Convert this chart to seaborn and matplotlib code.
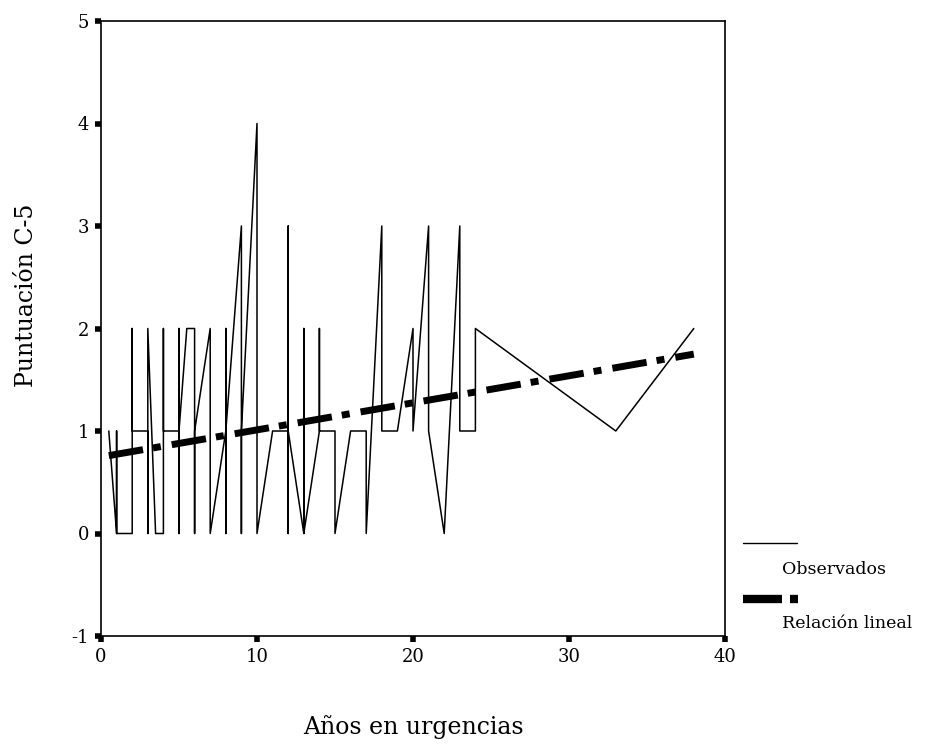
import matplotlib
matplotlib.use("Agg")
import matplotlib.pyplot as plt
from matplotlib.lines import Line2D
import seaborn as sns
import pandas as pd

# Observed scores, in the order the cases are joined (sorted by years)
obs_years = [0.5, 1, 1, 1, 2, 2, 2, 3, 3, 3, 3.5, 4, 4, 4, 5, 5, 5, 5, 5.5,
             6, 6, 6, 7, 7, 8, 8, 8, 8, 9, 9, 9, 10, 10, 11, 12, 12, 12, 12,
             13, 13, 13, 14, 14, 14, 15, 15, 16, 17, 17, 18, 18, 19, 20, 20,
             21, 21, 22, 23, 23, 24, 24, 33, 38]
obs_score = [1, 0, 1, 0, 0, 2, 1, 1, 0, 2, 0, 0, 2, 1, 1, 0, 2, 1, 2,
             2, 0, 1, 2, 0, 1, 0, 2, 1, 3, 0, 1, 4, 0, 1, 1, 3, 0, 1,
             0, 2, 0, 1, 2, 1, 1, 0, 1, 1, 0, 3, 1, 1, 2, 1,
             3, 1, 0, 3, 1, 1, 2, 1, 2]

# Linear fit, end points
fit_years = [0.5, 38]
fit_score = [0.76, 1.75]

x_ticks = [0, 10, 20, 30, 40]
y_ticks = [-1, 0, 1, 2, 3, 4, 5]

sns.set_theme(style="white")
plt.rcParams["font.family"] = ["DejaVu Serif"]

W, H = 933, 744
fig = plt.figure(figsize=(W / 100, H / 100), dpi=100)
ax = fig.add_axes([101 / W, 1 - 636 / H, (725 - 101) / W, (636 - 21) / H])

obs = pd.DataFrame({"years": obs_years, "score": obs_score})
fit = pd.DataFrame({"years": fit_years, "score": fit_score})

sns.lineplot(data=obs, x="years", y="score", sort=False, estimator=None,
             color="black", lw=1.1, ax=ax, legend=False)
sns.lineplot(data=fit, x="years", y="score", sort=False, estimator=None,
             color="black", lw=5, ax=ax, legend=False)
fit_line = ax.lines[-1]
fit_line.set_dashes((5.0, 1.45, 1.15, 1.6))
fit_line.set_dash_capstyle("butt")

ax.set_xlim(0, 40)
ax.set_ylim(-1, 5)
ax.set_xticks(x_ticks)
ax.set_yticks(y_ticks)
ax.set_xticklabels([str(v) for v in x_ticks])
ax.set_yticklabels([str(v) for v in y_ticks])
ax.set_xlabel("")
ax.set_ylabel("")
ax.tick_params(axis="both", direction="out", length=4.5, width=4,
               color="black", labelsize=13, labelcolor="black", pad=4)
ax.tick_params(axis="both", which="both", bottom=True, left=True)
for sp in ax.spines.values():
    sp.set_color("black")
    sp.set_linewidth(1.2)
    sp.set_visible(True)
ax.set_facecolor("white")

# Axis titles
fig.text(413 / W, 1 - 727 / H, "Años en urgencias", ha="center", va="center",
         fontsize=17, color="black")
fig.text(27 / W, 1 - 295 / H, "Puntuación C-5", ha="center", va="center",
         rotation=90, fontsize=17, color="black")

# Legend, drawn outside the plot area
def px(x, y):
    return x / W, 1 - y / H

lx0, ly0 = px(743, 543)
lx1, _ = px(797, 543)
fig.add_artist(Line2D([lx0, lx1], [ly0, ly0], color="black", lw=1.0,
                      transform=fig.transFigure))
fig.text(*px(782, 569), "Observados", ha="left", va="center", fontsize=12.5,
         color="black")
dx0, dy0 = px(743, 599)
dx1, _ = px(782, 599)
fig.add_artist(Line2D([dx0, dx1], [dy0, dy0], color="black", lw=6,
                      solid_capstyle="butt", transform=fig.transFigure))
ex0, _ = px(790, 599)
ex1, _ = px(798, 599)
fig.add_artist(Line2D([ex0, ex1], [dy0, dy0], color="black", lw=6,
                      solid_capstyle="butt", transform=fig.transFigure))
fig.text(*px(782, 623), "Relación lineal", ha="left", va="center",
         fontsize=12.5, color="black")

fig.savefig("out.png", dpi=100, facecolor="white")
